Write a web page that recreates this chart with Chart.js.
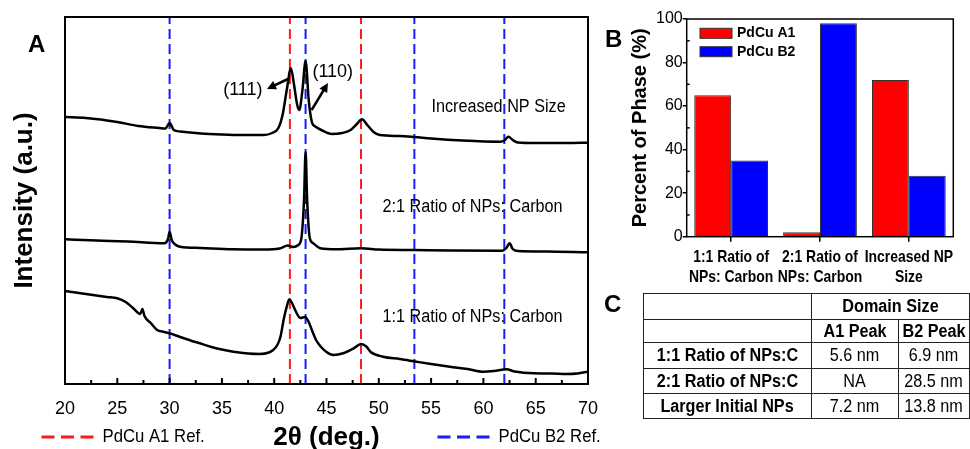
<!DOCTYPE html>
<html>
<head>
<meta charset="utf-8">
<script src="https://cdn.jsdelivr.net/npm/chart.js@4.4.1/dist/chart.umd.min.js"></script>
<style>
  body { margin: 0; background: #fff; width: 970px; height: 449px; overflow: hidden; position: relative; }
  #xrd { position: absolute; left: 0; top: 0; }
  #phase { position: absolute; left: 590px; top: 0; }
  .tag { position: absolute; font: bold 24px/24px 'Liberation Sans', Arial, sans-serif; color: #000; }
  #domain { position: absolute; left: 643px; top: 293px; border-collapse: collapse; table-layout: fixed;
            font: 18px 'Liberation Sans', Arial, sans-serif; color: #000; }
  #domain td { border: 1.5px solid #222; text-align: center; padding: 0; white-space: nowrap; overflow: visible; }
  #domain .b { font-weight: bold; }
  #domain span { display: inline-block; transform: scaleX(0.9); transform-origin: center; }
</style>
</head>
<body>
<canvas id="xrd" width="600" height="449"></canvas>
<canvas id="phase" width="380" height="290"></canvas>
<div class="tag" style="left:28px;top:32px">A</div>
<div class="tag" style="left:605px;top:27px">B</div>
<div class="tag" style="left:604px;top:292px">C</div>
<table id="domain">
  <colgroup><col style="width:169px"><col style="width:90px"><col style="width:70px"></colgroup>
  <tbody id="domainBody"></tbody>
</table>

<script>
// --- Panel A: XRD patterns, [2theta, intensity a.u.] ---
const increasedNP = [
  [20, 267], [22, 266], [25, 262], [27, 258], [29, 256], [29.6, 255.5], [30, 261], [30.4, 254],
  [31, 252.5], [33, 250.5], [35, 249.5], [37, 249], [39, 249], [39.8, 251], [40.4, 256], [40.8, 269],
  [41.2, 294], [41.6, 315.7], [41.9, 299], [42.2, 279], [42.4, 274], [42.7, 294], [43, 323],
  [43.3, 284], [43.6, 262], [44, 257], [44.5, 254], [45.5, 250], [46.5, 251], [47.3, 254],
  [47.9, 260], [48.4, 264.7], [48.9, 259], [49.5, 252], [50.1, 249], [52, 248], [53.4, 247],
  [55, 245.5], [58, 243.5], [61.6, 242.3], [62, 243.5], [62.4, 247.3], [62.8, 244], [63.3, 241.5],
  [65, 241], [68, 241], [70, 241.3]
];
const ratio21 = [
  [20, 144.7], [23, 143.5], [26, 142.5], [29.5, 140.7], [29.85, 145], [30, 152.3], [30.2, 144],
  [30.6, 139], [31, 137.3], [33, 136], [36, 134.7], [39, 134.5], [40.5, 135.5], [41.3, 138.5],
  [41.8, 137], [42.3, 139], [42.6, 146], [42.85, 184], [43, 232], [43.15, 184], [43.4, 146],
  [43.7, 141], [44.4, 135.7], [46, 134.7], [48.3, 135.7], [50, 134.5], [53.4, 134], [57, 133.5],
  [61.8, 133.3], [62.2, 136], [62.5, 140.7], [62.8, 135], [63.3, 133], [66, 132.5], [70, 131.7]
];
const ratio11 = [
  [20, 93], [21, 91.5], [22, 90], [23, 88.5], [24, 87], [25, 85.7], [25.8, 82], [26.5, 76],
  [27.2, 70], [27.4, 75], [27.6, 68], [28.2, 61], [28.8, 54], [29.5, 52], [30, 50.7], [31, 47],
  [32, 43.5], [32.9, 40.7], [34, 37], [35, 34.5], [36.1, 32.3], [37.5, 30.5], [38.6, 30],
  [39.5, 31.5], [39.9, 34], [40.3, 39], [40.6, 47.3], [40.9, 64], [41.2, 77.3], [41.45, 84.7],
  [41.7, 81], [42, 74], [42.5, 66], [42.95, 67], [43.3, 62], [43.6, 54], [44, 44], [44.4, 38],
  [45, 32], [45.65, 29], [46.6, 30.7], [47.6, 35.7], [48.3, 40], [48.8, 37.5], [49.2, 32.3],
  [50.4, 27.3], [52, 25], [53.6, 22.3], [55, 20], [56.8, 17.3], [58.5, 15], [60, 12.3], [61, 13],
  [62.2, 14.7], [63, 12.5], [64.8, 10.7], [66.5, 10.5], [68, 10], [69, 10.5], [70, 12.3]
];
const a1Refs = [41.5, 48.3];
const b2Refs = [30, 43, 53.4, 62];
const curveNames = ['Increased NP Size', '2:1 Ratio of NPs: Carbon', '1:1 Ratio of NPs: Carbon'];
const refNames = ['PdCu A1 Ref.', 'PdCu B2 Ref.'];
const xTicks = [20, 25, 30, 35, 40, 45, 50, 55, 60, 65, 70];

// --- Panel B: phase fractions ---
const phaseCats = [['1:1 Ratio of', 'NPs: Carbon'], ['2:1 Ratio of', 'NPs: Carbon'], ['Increased NP', 'Size']];
const phaseA1 = [65, 2, 72];
const phaseB2 = [35, 98, 28];

// --- Panel C: domain size ---
const domainRows = ['1:1 Ratio of NPs:C', '2:1 Ratio of NPs:C', 'Larger Initial NPs'];
const domainA1 = ['5.6 nm', 'NA', '7.2 nm'];
const domainB2 = ['6.9 nm', '28.5 nm', '13.8 nm'];

const SANS = "'Liberation Sans', Arial, sans-serif";
const RED = '#ff1a1a';
const BLUE = '#1a1aff';

const toPts = arr => arr.map(p => ({ x: p[0], y: p[1] }));
const refLine = (v, color) => ({
  data: [{ x: v, y: 0 }, { x: v, y: 367 }],
  borderColor: color, borderWidth: 2, borderDash: [10, 5], pointRadius: 0, fill: false
});

// no narrow face installed: squeeze the text horizontally
function narrowText(ctx, text, x, y, sx) {
  ctx.save();
  ctx.translate(x, y);
  ctx.scale(sx, 1);
  ctx.fillText(text, 0, 0);
  ctx.restore();
}

// keep the plot box where it is, whatever the edge labels need
function fixX(h) {
  return s => { s.height = h; s.paddingLeft = 0; s.paddingRight = 0; };
}

// notes on the XRD plot, placed in data coordinates
const curveNotes = [
  { text: curveNames[0], x: 61.45, y: 277, sx: 0.9 },
  { text: curveNames[1], x: 58.96, y: 177, sx: 0.9 },
  { text: curveNames[2], x: 58.96, y: 67, sx: 0.9 },
  { text: '(111)', x: 37.0, y: 294, sx: 1 },
  { text: '(110)', x: 45.6, y: 312, sx: 1 }
];
const arrows = [
  { from: [41.32, 305], to: [39.31, 295] },
  { from: [43.58, 274], to: [45.14, 301] }
];

const xrdDecor = {
  id: 'xrdDecor',
  afterDraw(chart) {
    const { ctx, chartArea: a, scales: { x, y } } = chart;
    ctx.save();
    ctx.strokeStyle = '#000';
    ctx.lineWidth = 2;
    ctx.strokeRect(a.left, a.top, a.right - a.left, a.bottom - a.top);
    // ticks pointing inward, minor every 2.5
    for (let v = 20; v <= 70; v += 2.5) {
      const px = x.getPixelForValue(v);
      const len = v % 5 === 0 ? 6 : 4;
      ctx.beginPath();
      ctx.moveTo(px, a.bottom);
      ctx.lineTo(px, a.bottom - len);
      ctx.stroke();
    }
    ctx.fillStyle = '#000';
    ctx.font = '18px ' + SANS;
    ctx.textAlign = 'center';
    ctx.textBaseline = 'middle';
    curveNotes.forEach(n => narrowText(ctx, n.text, x.getPixelForValue(n.x), y.getPixelForValue(n.y), n.sx));
    // arrows
    ctx.lineWidth = 2.5;
    arrows.forEach(ar => {
      const x1 = x.getPixelForValue(ar.from[0]), y1 = y.getPixelForValue(ar.from[1]);
      const x2 = x.getPixelForValue(ar.to[0]), y2 = y.getPixelForValue(ar.to[1]);
      const ang = Math.atan2(y2 - y1, x2 - x1);
      ctx.beginPath();
      ctx.moveTo(x1, y1);
      ctx.lineTo(x2 - 6 * Math.cos(ang), y2 - 6 * Math.sin(ang));
      ctx.stroke();
      ctx.beginPath();
      ctx.moveTo(x2, y2);
      ctx.lineTo(x2 - 9 * Math.cos(ang) + 4.5 * Math.sin(ang), y2 - 9 * Math.sin(ang) - 4.5 * Math.cos(ang));
      ctx.lineTo(x2 - 9 * Math.cos(ang) - 4.5 * Math.sin(ang), y2 - 9 * Math.sin(ang) + 4.5 * Math.cos(ang));
      ctx.closePath();
      ctx.fill();
    });
    // legend of the reference lines, under the axis
    ctx.lineWidth = 3;
    ctx.setLineDash([13, 6.5]);
    ctx.textAlign = 'left';
    ctx.font = '19px ' + SANS;
    [[41.5, RED, refNames[0]], [437.5, BLUE, refNames[1]]].forEach(([lx, c, t]) => {
      ctx.strokeStyle = c;
      ctx.beginPath();
      ctx.moveTo(lx, 437);
      ctx.lineTo(lx + 52, 437);
      ctx.stroke();
      narrowText(ctx, t, lx + 61, 437, 0.88);
    });
    ctx.restore();
  }
};

new Chart(document.getElementById('xrd'), {
  type: 'line',
  data: {
    datasets: [
      { label: curveNames[0], data: toPts(increasedNP), borderColor: '#000', borderWidth: 2.5, pointRadius: 0, cubicInterpolationMode: 'monotone' },
      { label: curveNames[1], data: toPts(ratio21), borderColor: '#000', borderWidth: 2.5, pointRadius: 0, cubicInterpolationMode: 'monotone' },
      { label: curveNames[2], data: toPts(ratio11), borderColor: '#000', borderWidth: 2.5, pointRadius: 0, cubicInterpolationMode: 'monotone' },
      ...a1Refs.map(v => refLine(v, RED)),
      ...b2Refs.map(v => refLine(v, BLUE))
    ]
  },
  options: {
    responsive: false,
    animation: false,
    layout: { padding: { left: 0, top: 17, right: 12, bottom: 0 } },
    plugins: { legend: { display: false }, tooltip: { enabled: false } },
    scales: {
      x: {
        type: 'linear', min: 20, max: 70,
        afterBuildTicks: s => { s.ticks = xTicks.map(v => ({ value: v })); },
        afterFit: fixX(65),
        grid: { display: false, drawTicks: false },
        border: { display: false },
        ticks: { color: '#000', padding: 14, font: { size: 18, family: SANS } },
        title: { display: true, text: '2θ (deg.)', color: '#000', padding: { top: 0, bottom: -4 },
                 font: { size: 26, weight: 'bold', family: SANS } }
      },
      y: {
        min: 0, max: 367,
        afterFit: s => { s.width = 65; },
        grid: { display: false, drawTicks: false },
        border: { display: false },
        ticks: { display: false },
        title: { display: true, text: 'Intensity (a.u.)', color: '#000', padding: { top: 9, bottom: 0 },
                 font: { size: 26, weight: 'bold', family: SANS } }
      }
    }
  },
  plugins: [xrdDecor]
});

// --- Panel B ---
const phaseDecor = {
  id: 'phaseDecor',
  afterDraw(chart) {
    const { ctx, chartArea: a, scales: { x, y } } = chart;
    ctx.save();
    ctx.strokeStyle = '#000';
    ctx.lineWidth = 1.5;
    ctx.strokeRect(a.left, a.top, a.right - a.left, a.bottom - a.top);
    // minor ticks, inward, halfway between the labelled ones
    for (let v = 10; v < 100; v += 20) {
      const py = y.getPixelForValue(v);
      ctx.beginPath();
      ctx.moveTo(a.left, py);
      ctx.lineTo(a.left + 3, py);
      ctx.stroke();
    }
    // category labels, two lines each
    ctx.fillStyle = '#000';
    ctx.font = 'bold 17px ' + SANS;
    ctx.textAlign = 'center';
    ctx.textBaseline = 'middle';
    chart.data.labels.forEach((lines, i) => {
      lines.forEach((t, j) => narrowText(ctx, t, x.getPixelForValue(i), 257 + j * 20, 0.82));
    });
    // legend inside the plot
    ctx.font = 'bold 14px ' + SANS;
    ctx.textAlign = 'left';
    chart.data.datasets.forEach((ds, i) => {
      const top = 28.3 + i * 18.4;
      ctx.fillStyle = ds.backgroundColor;
      ctx.fillRect(110, top, 32, 10);
      ctx.strokeStyle = '#333';
      ctx.lineWidth = 1;
      ctx.strokeRect(110, top, 32, 10);
      ctx.fillStyle = '#000';
      ctx.fillText(ds.label, 147, top + 5);
    });
    ctx.restore();
  }
};

new Chart(document.getElementById('phase'), {
  type: 'bar',
  data: {
    labels: phaseCats,
    datasets: [
      { label: 'PdCu A1', data: phaseA1, backgroundColor: '#ff0000', borderColor: '#333', borderWidth: 1 },
      { label: 'PdCu B2', data: phaseB2, backgroundColor: '#0000ff', borderColor: '#333', borderWidth: 1 }
    ]
  },
  options: {
    responsive: false,
    animation: false,
    layout: { padding: { left: 0, top: 19, right: 16.7, bottom: 0 } },
    plugins: { legend: { display: false }, tooltip: { enabled: false } },
    datasets: { bar: { barPercentage: 1, categoryPercentage: 0.83 } },
    scales: {
      x: {
        afterFit: fixX(53.3),
        grid: { drawOnChartArea: false, offset: false, tickLength: 5, color: '#000', lineWidth: 1.5 },
        border: { display: false },
        ticks: { display: false }
      },
      y: {
        min: 0, max: 100,
        afterFit: s => { s.width = 96.7; },
        grid: { drawOnChartArea: false, tickLength: 4, color: '#000', lineWidth: 1.5 },
        border: { display: false },
        ticks: { stepSize: 20, color: '#000', padding: 0, font: { size: 16, family: SANS } },
        title: { display: true, text: 'Percent of Phase (%)', color: '#000', padding: { top: 38, bottom: 0 },
                 font: { size: 20, weight: 'bold', family: SANS } }
      }
    }
  },
  plugins: [phaseDecor]
});

// --- Panel C: table built from the arrays ---
const body = document.getElementById('domainBody');
const heights = [26, 23, 26, 25, 25];
const cell = (t, cls, span) => `<td${cls ? ' class="b"' : ''}${span ? ` colspan="${span}"` : ''}>${t ? `<span>${t}</span>` : ''}</td>`;
let html = `<tr style="height:${heights[0]}px">${cell('', 0)}${cell('Domain Size', 1, 2)}</tr>`;
html += `<tr style="height:${heights[1]}px">${cell('', 0)}${cell('A1 Peak', 1)}${cell('B2 Peak', 1)}</tr>`;
domainRows.forEach((r, i) => {
  html += `<tr style="height:${heights[i + 2]}px">${cell(r, 1)}${cell(domainA1[i], 0)}${cell(domainB2[i], 0)}</tr>`;
});
body.innerHTML = html;
</script>
</body>
</html>
